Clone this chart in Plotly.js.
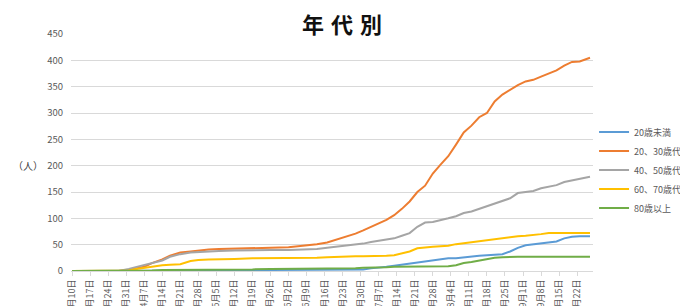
<!DOCTYPE html>
<html>
<head>
<meta charset="utf-8">
<script src="https://cdn.plot.ly/plotly-3.0.1.min.js"></script>
<style>
html,body{margin:0;padding:0;background:#fff;overflow:hidden;width:680px;height:306px;}
#chart{width:760px;height:306px;}
.gtitle{letter-spacing:7px;}
</style>
</head>
<body>
<div id="chart"></div>
<script>
// ---- data ----
const dates = ['2020-03-10','2020-03-20','2020-03-28','2020-04-01','2020-04-04','2020-04-07','2020-04-10','2020-04-14','2020-04-17','2020-04-21','2020-04-25','2020-04-28','2020-05-02','2020-05-06','2020-05-12','2020-05-19','2020-05-26','2020-06-02','2020-06-09','2020-06-13','2020-06-17','2020-06-21','2020-06-25','2020-06-28','2020-07-01','2020-07-04','2020-07-07','2020-07-10','2020-07-13','2020-07-16','2020-07-19','2020-07-22','2020-07-25','2020-07-28','2020-07-31','2020-08-03','2020-08-06','2020-08-09','2020-08-12','2020-08-15','2020-08-18','2020-08-21','2020-08-24','2020-08-27','2020-08-30','2020-09-02','2020-09-05','2020-09-08','2020-09-11','2020-09-14','2020-09-17','2020-09-20','2020-09-23','2020-09-27'];

const seriesNames = ['20歳未満','20、30歳代','40、50歳代','60、70歳代','80歳以上'];

const under20 = [0,0,0,0,0,0,0,0,0,1,1,1,1,1,1,1,2,2,2,2,2,3,3,3,3,5,6,8,10,12,14,16,19,21,22,24,24,26,27,29,30,31,32,37,44,49,51,52,54,56,62,65,66,66];
const age2030 = [0,0,0,2,5,8,15,22,29,35,37,39,41,42,43,44,44,45,48,51,54,60,66,71,77,84,90,97,106,118,132,150,162,185,202,218,240,263,276,292,300,322,335,344,353,360,363,369,375,381,390,397,398,405];
const age4050 = [0,0,0,4,8,11,16,20,27,32,35,36,38,38,39,40,40,40,41,42,44,46,48,50,52,55,57,60,62,67,72,84,92,93,96,100,104,110,113,118,123,128,134,138,148,150,152,157,160,163,169,172,174,179];
const age6070 = [0,0,0,1,4,6,9,11,12,13,19,21,22,22,23,24,24,24,25,25,26,27,27,28,28,28,29,29,30,34,37,43,45,46,47,48,51,53,54,57,59,61,62,64,66,67,68,70,72,72,72,72,72,72];
const over80 = [0,0,0,0,0,0,1,2,2,2,2,2,3,3,3,3,4,4,4,4,4,5,5,5,6,6,7,7,8,8,8,8,8,8,8,9,11,15,17,20,22,25,26,27,27,27,27,27,27,27,27,27,27,27];

const tickDates = ['2020-03-10','2020-03-17','2020-03-24','2020-03-31','2020-04-07','2020-04-14','2020-04-21','2020-04-28','2020-05-05','2020-05-12','2020-05-19','2020-05-26','2020-06-02','2020-06-09','2020-06-16','2020-06-23','2020-06-30','2020-07-07','2020-07-14','2020-07-21','2020-07-28','2020-08-04','2020-08-11','2020-08-18','2020-08-25','2020-09-01','2020-09-08','2020-09-15','2020-09-22'];
const tickLabels = ['3月10日','3月17日','3月24日','3月31日','4月7日','4月14日','4月21日','4月28日','5月5日','5月12日','5月19日','5月26日','6月2日','6月9日','6月16日','6月23日','6月30日','7月7日','7月14日','7月21日','7月28日','8月4日','8月11日','8月18日','8月25日','9月1日','9月8日','9月15日','9月22日'];

const colors = ['#5B9BD5','#ED7D31','#A5A5A5','#FFC000','#70AD47'];
const values = [under20, age2030, age4050, age6070, over80];

const font = '"Noto Sans CJK JP", "Noto Sans", sans-serif';

const traces = values.map((v, i) => ({
  type: 'scatter', mode: 'lines', name: seriesNames[i],
  x: dates, y: v,
  line: {color: colors[i], width: 2}
}));

const layout = {
  width: 760, height: 306,
  margin: {l: 71, r: 167, t: 34, b: 35, pad: 0},
  paper_bgcolor: '#fff', plot_bgcolor: '#fff',
  showlegend: true,
  title: {
    text: '年代別',
    font: {family: font, size: 22, color: '#111', weight: 'bold'},
    x: 0.526, xanchor: 'center', xref: 'paper',
    y: 0.918, yanchor: 'middle', yref: 'container'
  },
  xaxis: {
    type: 'date',
    range: ['2020-03-09 14:00', '2020-09-28 04:00'],
    tickmode: 'array', tickvals: tickDates, ticktext: tickLabels,
    tickangle: -90,
    tickfont: {family: font, size: 9, color: '#595959'},
    ticks: 'outside', ticklen: 4, tickcolor: '#d9d9d9',
    showgrid: false, showline: true, linecolor: '#d9d9d9', linewidth: 1,
    zeroline: false, automargin: false, fixedrange: true
  },
  yaxis: {
    range: [0, 450], dtick: 50, tick0: 0,
    tickfont: {family: font, size: 9.5, color: '#595959'},
    showgrid: true, gridcolor: '#d9d9d9', gridwidth: 1,
    zeroline: false, showline: false, ticks: '',
    ticklabelstandoff: 7,
    automargin: false, fixedrange: true
  },
  legend: {
    x: 1.002, xanchor: 'left', y: 0.426, yanchor: 'middle',
    font: {family: font, size: 9, color: '#595959'},
    bgcolor: 'rgba(0,0,0,0)', tracegroupgap: 0
  },
  annotations: [{
    text: '（人）', xref: 'paper', yref: 'paper',
    x: -0.082, y: (200/450), xanchor: 'center', yanchor: 'middle',
    showarrow: false, font: {family: font, size: 10, color: '#404040'}
  }]
};

Plotly.newPlot('chart', traces, layout, {displayModeBar: false, staticPlot: true});
</script>
</body>
</html>
